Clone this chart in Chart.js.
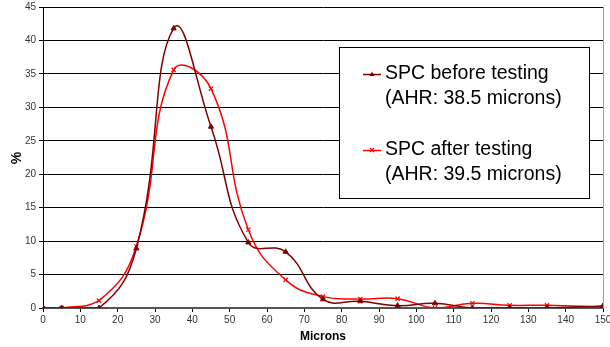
<!DOCTYPE html>
<html>
<head>
<meta charset="utf-8">
<script src="https://cdn.jsdelivr.net/npm/chart.js@4/dist/chart.umd.min.js"></script>
<style>
html,body{margin:0;padding:0;background:#fff;}
#wrap{width:610px;height:347px;}
</style>
</head>
<body>
<div id="wrap"><canvas id="c" width="610" height="347"></canvas></div>
<script>
const microns = [0, 5, 15, 25, 35, 45, 55, 65, 75, 85, 95, 105, 115, 125, 135, 150];
const beforeVals = [0, 0, 0, 8.9, 41.8, 27.1, 9.8, 8.4, 1.3, 1.0, 0.35, 0.7, 0, 0, 0, 0.3];
const afterVals = [0, 0, 1.1, 9.2, 35.6, 32.8, 11.7, 4.2, 1.7, 1.35, 1.4, 0, 0.7, 0.4, 0.4, 0.15];
const seriesLabels = [
  ["SPC before testing", "(AHR: 38.5 microns)"],
  ["SPC after testing", "(AHR: 39.5 microns)"]
];
const xTitle = "Microns";
const yTitle = "%";

const pts = (vals) => microns.map((m, i) => ({x: m, y: vals[i]}));

const FONT = "'Liberation Sans', Arial, sans-serif";

const customDraw = {
  id: 'customDraw',
  afterDraw(chart) {
    const ctx = chart.ctx;
    const area = chart.chartArea;
    ctx.save();
    // right border
    ctx.strokeStyle = '#a0a0a0';
    ctx.lineWidth = 1;
    ctx.beginPath();
    ctx.moveTo(area.right + 0.5, area.top);
    ctx.lineTo(area.right + 0.5, area.bottom);
    ctx.stroke();
    // axis titles
    ctx.fillStyle = '#000';
    ctx.font = 'bold 12px ' + FONT;
    ctx.textAlign = 'center';
    ctx.textBaseline = 'middle';
    ctx.fillText(xTitle, (area.left + area.right) / 2, 337);
    ctx.save();
    ctx.translate(17, 158);
    ctx.rotate(-Math.PI / 2);
    ctx.font = 'bold 14px ' + FONT;
    ctx.fillText(yTitle, 0, 0);
    ctx.restore();

    // legend box
    const bx = 339, by = 47, bw = 250, bh = 151;
    ctx.fillStyle = '#fff';
    ctx.fillRect(bx, by, bw, bh);
    ctx.strokeStyle = '#000';
    ctx.lineWidth = 1;
    ctx.strokeRect(bx + 0.5, by + 0.5, bw, bh);
    ctx.font = '19.5px ' + FONT;
    ctx.textAlign = 'left';
    ctx.textBaseline = 'middle';
    const rows = [74, 150];
    chart.data.datasets.forEach((ds, i) => {
      const y = rows[i];
      ctx.strokeStyle = ds.borderColor;
      ctx.lineWidth = 1.5;
      ctx.beginPath();
      ctx.moveTo(363, y + 0.5);
      ctx.lineTo(381, y + 0.5);
      ctx.stroke();
      ctx.fillStyle = ds.borderColor;
      if (i === 0) {
        ctx.beginPath();
        ctx.moveTo(372, y - 2.5);
        ctx.lineTo(374.5, y + 2);
        ctx.lineTo(369.5, y + 2);
        ctx.closePath();
        ctx.fill();
      } else {
        ctx.lineWidth = 1.2;
        ctx.beginPath();
        ctx.moveTo(370, y - 2); ctx.lineTo(374, y + 2);
        ctx.moveTo(374, y - 2); ctx.lineTo(370, y + 2);
        ctx.stroke();
      }
      ctx.fillStyle = '#000';
      const lines = seriesLabels[i];
      lines.forEach((t, k) => ctx.fillText(t, 385, y + k * 25));
    });
    ctx.restore();
  }
};

new Chart(document.getElementById('c'), {
  type: 'line',
  data: {
    datasets: [
      {
        label: seriesLabels[0].join(' '),
        data: pts(beforeVals),
        borderColor: '#800000',
        backgroundColor: '#800000',
        borderWidth: 1.5,
        pointStyle: 'triangle',
        pointRadius: 3,
        pointBorderWidth: 1,
        tension: 0.45,
        fill: false
      },
      {
        label: seriesLabels[1].join(' '),
        data: pts(afterVals),
        borderColor: '#ff0000',
        backgroundColor: '#ff0000',
        borderWidth: 1.5,
        pointStyle: 'crossRot',
        pointRadius: 3,
        pointBorderWidth: 1.2,
        tension: 0.45,
        fill: false
      }
    ]
  },
  options: {
    responsive: false,
    animation: false,
    devicePixelRatio: 1,
    layout: {padding: {top: 7, right: 7, left: 0, bottom: 0}},
    plugins: {legend: {display: false}, tooltip: {enabled: false}},
    scales: {
      x: {
        type: 'linear',
        min: 0, max: 150,
        afterFit(s) { s.height = 39; s.paddingRight = 0; s.paddingLeft = 0; },
        ticks: {stepSize: 10, color: '#333', font: {family: FONT, size: 10}, padding: 2, maxRotation: 0},
        grid: {display: true, drawOnChartArea: false, drawTicks: true, tickLength: 4, color: '#000'},
        border: {display: true, color: '#555', width: 2}
      },
      y: {
        min: 0, max: 45,
        afterFit(s) { s.width = 43; s.paddingTop = 0; s.paddingBottom = 0; },
        ticks: {stepSize: 5, color: '#333', font: {family: FONT, size: 10}, padding: 3},
        grid: {color: '#000', lineWidth: 1, tickLength: 4, drawTicks: true},
        border: {display: true, color: '#000', width: 1}
      }
    }
  },
  plugins: [customDraw]
});
</script>
</body>
</html>
